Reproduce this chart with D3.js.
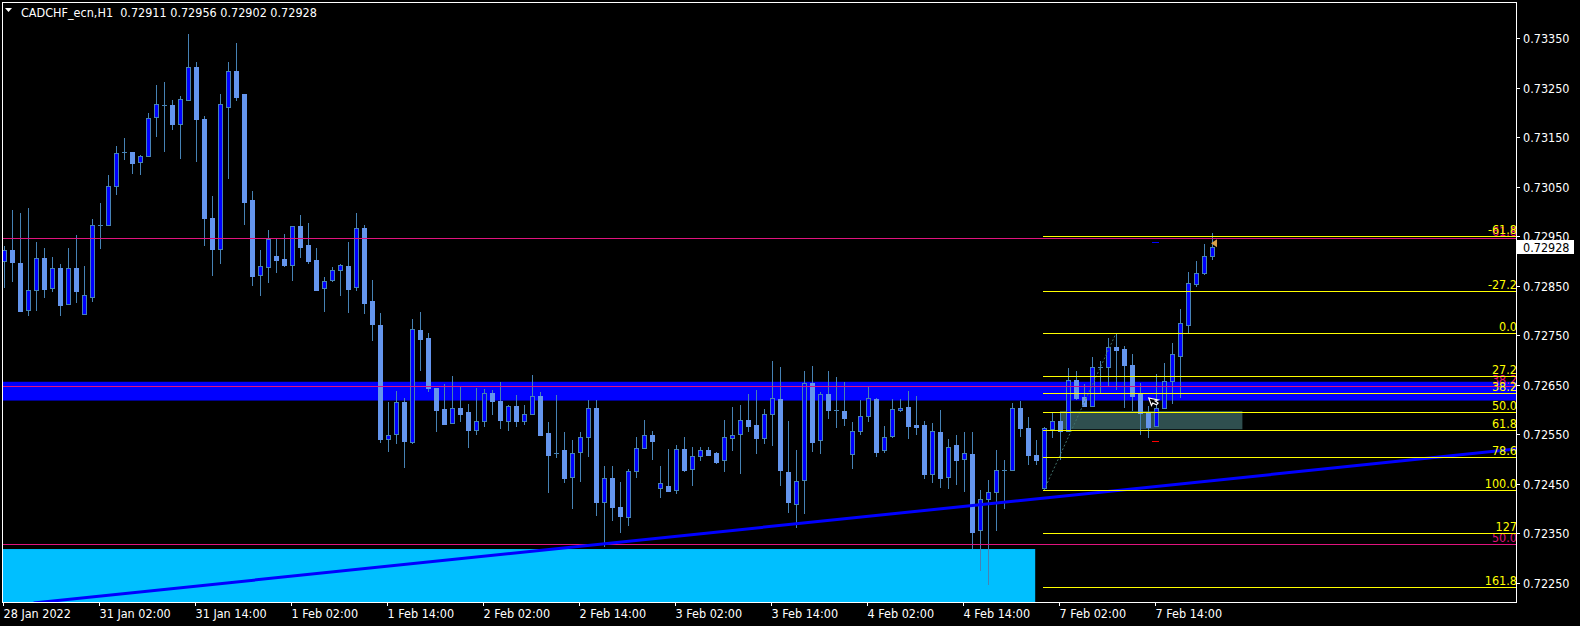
<!DOCTYPE html>
<html><head><meta charset="utf-8">
<script src="https://cdn.jsdelivr.net/npm/d3@7"></script>
<style>html,body{margin:0;padding:0;background:#000;overflow:hidden}svg{display:block}</style>
</head><body>
<svg id="c" width="1580" height="626"></svg>
<script>
// ---------------- data ----------------
const symbol = "CADCHF_ecn,H1";
const opens = [
0.72901,0.72922,0.72896,0.72801,0.72841,0.72906,0.72845,0.72886,0.72813,0.72886,
0.72792,0.72828,0.72972,0.72972,0.73051,0.73120,0.73120,0.73101,0.73112,0.73190,
0.73215,0.73215,0.73176,0.73225,0.73292,0.73187,0.72987,0.72925,0.73211,0.73284,
0.73237,0.73023,0.72871,0.72887,0.72910,0.72904,0.72891,0.72971,0.72932,0.72902,
0.72845,0.72861,0.72881,0.72890,0.72848,0.72966,0.72819,0.72771,0.72541,0.72550,
0.72615,0.72535,0.72761,0.72745,0.72644,0.72601,0.72572,0.72603,0.72595,0.72558,
0.72576,0.72633,0.72617,0.72576,0.72607,0.72576,0.72591,0.72627,0.72552,0.72512,
0.72518,0.72463,0.72514,0.72544,0.72602,0.72413,0.72461,0.72402,0.72382,0.72475,
0.72522,0.72548,0.72441,0.72446,0.72437,0.72520,0.72479,0.72507,0.72518,0.72512,
0.72497,0.72543,0.72551,0.72579,0.72569,0.72542,0.72590,0.72621,0.72473,0.72409,
0.72457,0.72653,0.72538,0.72631,0.72598,0.72596,0.72510,0.72556,0.72586,0.72621,
0.72518,0.72547,0.72598,0.72606,0.72568,0.72568,0.72470,0.72554,0.72463,0.72528,
0.72499,0.72510,0.72356,0.72419,0.72433,0.72477,0.72477,0.72604,0.72563,0.72508,
0.72441,0.72560,0.72577,0.72557,0.72659,0.72625,0.72608,0.72686,0.72685,0.72726,
0.72722,0.72690,0.72631,0.72592,0.72567,0.72602,0.72658,0.72709,0.72771,0.72853,
0.72875,0.72911];
const highs = [
0.72931,0.73003,0.72998,0.73007,0.72939,0.72926,0.72908,0.72894,0.72926,0.72953,
0.72890,0.72985,0.73017,0.73074,0.73132,0.73149,0.73120,0.73114,0.73199,0.73256,
0.73262,0.73225,0.73233,0.73359,0.73302,0.73192,0.73032,0.73238,0.73302,0.73341,
0.73238,0.73042,0.72922,0.72963,0.72946,0.72955,0.72970,0.72993,0.72977,0.72926,
0.72868,0.72888,0.72894,0.72939,0.72997,0.72973,0.72862,0.72795,0.72615,0.72637,
0.72623,0.72783,0.72797,0.72755,0.72644,0.72652,0.72668,0.72646,0.72611,0.72644,
0.72642,0.72640,0.72656,0.72609,0.72629,0.72609,0.72670,0.72635,0.72574,0.72629,
0.72554,0.72539,0.72555,0.72619,0.72619,0.72486,0.72486,0.72454,0.72479,0.72545,
0.72579,0.72557,0.72486,0.72520,0.72528,0.72545,0.72524,0.72524,0.72524,0.72515,
0.72579,0.72605,0.72609,0.72631,0.72639,0.72601,0.72698,0.72686,0.72577,0.72518,
0.72678,0.72688,0.72635,0.72678,0.72666,0.72656,0.72575,0.72619,0.72646,0.72623,
0.72567,0.72621,0.72621,0.72637,0.72627,0.72577,0.72573,0.72599,0.72540,0.72549,
0.72555,0.72555,0.72437,0.72458,0.72518,0.72497,0.72613,0.72617,0.72585,0.72538,
0.72565,0.72592,0.72592,0.72684,0.72678,0.72652,0.72706,0.72698,0.72745,0.72754,
0.72728,0.72712,0.72654,0.72607,0.72671,0.72693,0.72734,0.72803,0.72878,0.72901,
0.72934,0.72956];
const lows = [
0.72846,0.72858,0.72796,0.72788,0.72798,0.72826,0.72838,0.72788,0.72811,0.72816,
0.72790,0.72818,0.72925,0.72970,0.73034,0.73105,0.73075,0.73073,0.73110,0.73151,
0.73121,0.73165,0.73107,0.73224,0.73101,0.72931,0.72869,0.72893,0.73066,0.73224,
0.72972,0.72850,0.72830,0.72856,0.72875,0.72888,0.72860,0.72906,0.72893,0.72841,
0.72796,0.72858,0.72830,0.72794,0.72840,0.72792,0.72739,0.72533,0.72515,0.72531,
0.72481,0.72531,0.72677,0.72636,0.72555,0.72568,0.72571,0.72574,0.72523,0.72549,
0.72565,0.72588,0.72561,0.72557,0.72565,0.72569,0.72588,0.72548,0.72432,0.72502,
0.72452,0.72399,0.72454,0.72503,0.72384,0.72323,0.72374,0.72351,0.72365,0.72462,
0.72521,0.72497,0.72421,0.72433,0.72430,0.72473,0.72446,0.72495,0.72505,0.72489,
0.72473,0.72516,0.72469,0.72555,0.72511,0.72531,0.72527,0.72446,0.72390,0.72361,
0.72388,0.72515,0.72511,0.72580,0.72563,0.72567,0.72479,0.72549,0.72575,0.72503,
0.72513,0.72543,0.72594,0.72540,0.72549,0.72460,0.72452,0.72442,0.72440,0.72448,
0.72434,0.72318,0.72273,0.72246,0.72355,0.72398,0.72476,0.72545,0.72487,0.72487,
0.72438,0.72543,0.72498,0.72557,0.72619,0.72605,0.72606,0.72634,0.72648,0.72639,
0.72604,0.72596,0.72549,0.72543,0.72565,0.72601,0.72611,0.72624,0.72754,0.72848,
0.72871,0.72902];
const closes = [
0.72922,0.72897,0.72798,0.72841,0.72906,0.72844,0.72885,0.72812,0.72885,0.72840,
0.72831,0.72972,0.72973,0.73051,0.73118,0.73121,0.73099,0.73112,0.73188,0.73217,
0.73216,0.73176,0.73227,0.73291,0.73186,0.72986,0.72925,0.73217,0.73283,0.73232,
0.73020,0.72869,0.72889,0.72945,0.72903,0.72891,0.72970,0.72929,0.72901,0.72842,
0.72859,0.72882,0.72891,0.72844,0.72966,0.72816,0.72772,0.72540,0.72549,0.72615,
0.72537,0.72762,0.72743,0.72643,0.72598,0.72571,0.72602,0.72590,0.72559,0.72576,
0.72633,0.72618,0.72578,0.72607,0.72576,0.72590,0.72627,0.72549,0.72509,0.72512,
0.72462,0.72513,0.72544,0.72604,0.72413,0.72461,0.72402,0.72384,0.72475,0.72522,
0.72548,0.72537,0.72451,0.72436,0.72520,0.72478,0.72506,0.72518,0.72508,0.72494,
0.72545,0.72549,0.72578,0.72567,0.72543,0.72590,0.72623,0.72477,0.72414,0.72455,
0.72653,0.72535,0.72631,0.72598,0.72598,0.72582,0.72556,0.72586,0.72623,0.72515,
0.72545,0.72600,0.72604,0.72567,0.72565,0.72470,0.72556,0.72462,0.72525,0.72497,
0.72512,0.72353,0.72419,0.72433,0.72477,0.72477,0.72602,0.72563,0.72509,0.72497,
0.72562,0.72577,0.72557,0.72659,0.72623,0.72608,0.72686,0.72686,0.72726,0.72720,
0.72690,0.72628,0.72592,0.72565,0.72602,0.72657,0.72712,0.72774,0.72855,0.72875,
0.72910,0.72928];

const timeLabels = ["28 Jan 2022","31 Jan 02:00","31 Jan 14:00","1 Feb 02:00","1 Feb 14:00",
  "2 Feb 02:00","2 Feb 14:00","3 Feb 02:00","3 Feb 14:00","4 Feb 02:00","4 Feb 14:00",
  "7 Feb 02:00","7 Feb 14:00"];
const timeLabelBars = [0,12,24,36,48,60,72,84,96,108,120,132,144];
const priceTicks = [0.73350,0.73250,0.73150,0.73050,0.72950,0.72850,0.72750,0.72650,0.72550,0.72450,0.72350,0.72250];

// Fibonacci retracement (anchors: low bar 130, high bar 139)
const fibBars = [130, 139];
const fibPrices = [0.72437, 0.72754];
const fibLevels = [-61.8,-27.2,0,27.2,38.2,50,61.8,78.6,100,127,161.8];
const fibLabels = ["-61.8","-27.2","0.0","27.2","38.2","50.0","61.8","78.6","100.0","127","161.8"];

// horizontal magenta levels and their labels
const hLevels = [0.72946, 0.72647, 0.72328];
const hLabels = ["61.8", "38.2", "50.0"];

// zones
const blueZone = [0.72618, 0.72656];
const cyanZone = {barEnd: 128.9, top: 0.72318};
const grayZone = {barStart: 132, barEnd: 154.8, low: 0.72560, high: 0.72597};
// trend line anchors
const trendBars = [3.7, 189];
const trendPrices = [0.72209, 0.72520];
// small markers
const markerBar = 144;
const slPrice = 0.72537, tpPrice = 0.72938, arrowPrice = 0.72617;

// ---------------- drawing ----------------
const W = 1580, H = 626;
const P = {l: 2, t: 2, r: 1516, b: 602};
const FONT = "'DejaVu Sans Condensed','DejaVu Sans',sans-serif";
const FS = 12.5;
const x = d3.scaleLinear().domain([0, 151]).range([4, 1212]);
const y = d3.scaleLinear().domain([0.72250, 0.73350]).range([582.7, 38.3]);

const svg = d3.select("#c");
svg.append("rect").attr("width", W).attr("height", H).attr("fill", "#000");
svg.append("defs").append("clipPath").attr("id", "clip")
  .append("rect").attr("x", P.l).attr("y", P.t).attr("width", P.r - P.l).attr("height", P.b - P.t);
const g = svg.append("g").attr("clip-path", "url(#clip)");

// background zones
g.append("rect").attr("x", P.l).attr("width", P.r - P.l)
  .attr("y", y(blueZone[1])).attr("height", y(blueZone[0]) - y(blueZone[1])).attr("fill", "#0000FF");
g.append("rect").attr("x", P.l).attr("width", x(cyanZone.barEnd) - P.l)
  .attr("y", y(cyanZone.top)).attr("height", P.b - y(cyanZone.top)).attr("fill", "#00BFFF");
g.append("rect").attr("x", x(grayZone.barStart)).attr("width", x(grayZone.barEnd) - x(grayZone.barStart))
  .attr("y", y(grayZone.high)).attr("height", y(grayZone.low) - y(grayZone.high)).attr("fill", "#2F4F4F");

// candles
const WICK = "#4682B4", BULL = "#0000FF", BEAR = "#6495ED";
const cg = g.append("g").attr("shape-rendering", "crispEdges");
opens.forEach((o, i) => {
  const c = closes[i], h = highs[i], l = lows[i];
  const cx = Math.round(x(i));
  cg.append("rect").attr("x", cx).attr("width", 1)
    .attr("y", Math.round(y(h))).attr("height", Math.max(1, Math.round(y(l)) - Math.round(y(h))))
    .attr("fill", WICK);
  const top = Math.round(y(Math.max(o, c))), bot = Math.round(y(Math.min(o, c)));
  const bh = bot - top;
  if (bh < 2) {
    cg.append("rect").attr("x", cx - 2).attr("width", 5).attr("y", top).attr("height", 1).attr("fill", WICK);
  } else if (c > o) {
    cg.append("rect").attr("x", cx - 2).attr("width", 5).attr("y", top).attr("height", bh + 1).attr("fill", WICK);
    cg.append("rect").attr("x", cx - 1).attr("width", 3).attr("y", top + 1).attr("height", bh - 1).attr("fill", BULL);
  } else {
    cg.append("rect").attr("x", cx - 2).attr("width", 5).attr("y", top).attr("height", bh + 1).attr("fill", BEAR);
  }
});

// magenta horizontal lines
const MAG = "#E0147E";
hLevels.forEach(p => {
  g.append("line").attr("x1", P.l).attr("x2", P.r).attr("y1", Math.round(y(p)) + 0.5).attr("y2", Math.round(y(p)) + 0.5)
    .attr("stroke", MAG).attr("stroke-width", 1);
});

// trend line
g.append("line").attr("x1", x(trendBars[0])).attr("y1", y(trendPrices[0]))
  .attr("x2", x(trendBars[1])).attr("y2", y(trendPrices[1]))
  .attr("stroke", "#0000FF").attr("stroke-width", 3);

// fibonacci
const fibHi = fibPrices[1], fibLo = fibPrices[0];
g.append("line").attr("x1", x(fibBars[0])).attr("y1", y(fibLo)).attr("x2", x(fibBars[1])).attr("y2", y(fibHi))
  .attr("stroke", "#3f6f6a").attr("stroke-width", 1).attr("stroke-dasharray", "2,2");
// magenta labels (under yellow)
hLevels.forEach((p, k) => {
  g.append("text").attr("x", 1517).attr("y", Math.round(y(p)) - 2).attr("text-anchor", "end")
    .attr("fill", MAG).attr("font-family", FONT).attr("font-size", FS).text(hLabels[k]);
});
fibLevels.forEach((lv, k) => {
  const p = fibHi - (lv / 100) * (fibHi - fibLo);
  const yy = Math.round(y(p)) + 0.5;
  g.append("line").attr("x1", x(fibBars[0]) - 1).attr("x2", P.r).attr("y1", yy).attr("y2", yy)
    .attr("stroke", "#FFFF00").attr("stroke-width", 1);
  g.append("text").attr("x", 1517).attr("y", yy - 2.5).attr("text-anchor", "end")
    .attr("fill", "#FFFF00").attr("font-family", FONT).attr("font-size", FS).text(fibLabels[k]);
});

// small markers
const mx = x(markerBar);
g.append("rect").attr("x", mx - 4).attr("y", Math.round(y(tpPrice))).attr("width", 7).attr("height", 1).attr("fill", "#0000FF");
g.append("rect").attr("x", mx - 4).attr("y", Math.round(y(slPrice))).attr("width", 7).attr("height", 1).attr("fill", "#FF0000");
const ay = y(arrowPrice);
g.append("path").attr("d", `M${mx-6},${ay-4} l0,8 l2,-2 l3,3 l2,-1 l-2,-3 l3,0 z`)
  .attr("fill", "#000").attr("stroke", "#fff").attr("stroke-width", 1.2).attr("transform", `rotate(-20 ${mx-4} ${ay})`);
const lx = x(151) + 4, ly = y(closes[151]) - 4;
g.append("path").attr("d", `M${lx-5},${ly} L${lx+1},${ly-4} L${lx+1},${ly+4} Z`).attr("fill", "#D8A048");

// frame
svg.append("rect").attr("x", P.l + 0.5).attr("y", P.t + 0.5).attr("width", P.r - P.l).attr("height", P.b - P.t)
  .attr("fill", "none").attr("stroke", "#fff").attr("stroke-width", 1).attr("shape-rendering", "crispEdges");

// price axis
priceTicks.forEach(p => {
  const yy = Math.round(y(p)) + 0.5;
  svg.append("line").attr("x1", P.r).attr("x2", P.r + 4).attr("y1", yy).attr("y2", yy).attr("stroke", "#fff");
  svg.append("text").attr("x", 1523).attr("y", yy + 4.5).attr("fill", "#fff")
    .attr("font-family", FONT).attr("font-size", FS).text(d3.format(".5f")(p));
});
// current price tag
const cy = Math.round(y(closes[151]));
svg.append("rect").attr("x", P.r + 1).attr("y", cy - 7).attr("width", 57).attr("height", 14).attr("fill", "#fff");
svg.append("text").attr("x", 1523).attr("y", cy + 4.5).attr("fill", "#000")
  .attr("font-family", FONT).attr("font-size", FS).text(d3.format(".5f")(closes[151]));

// time axis
timeLabelBars.forEach((b, k) => {
  const xx = Math.round(x(b)) - 0.5;
  svg.append("line").attr("x1", xx).attr("x2", xx).attr("y1", P.b).attr("y2", P.b + 4).attr("stroke", "#fff");
  svg.append("text").attr("x", xx).attr("y", 618).attr("fill", "#fff")
    .attr("font-family", FONT).attr("font-size", FS).text(timeLabels[k]);
});

// title
svg.append("path").attr("d", "M5,8 L12,8 L8.5,12 Z").attr("fill", "#fff");
svg.append("text").attr("x", 21).attr("y", 17).attr("fill", "#fff").attr("font-family", FONT).attr("font-size", FS)
  .attr("xml:space", "preserve")
  .text(`${symbol}  ${d3.format(".5f")(opens[151])} ${d3.format(".5f")(highs[151])} ${d3.format(".5f")(lows[151])} ${d3.format(".5f")(closes[151])}`);
</script>
</body></html>
